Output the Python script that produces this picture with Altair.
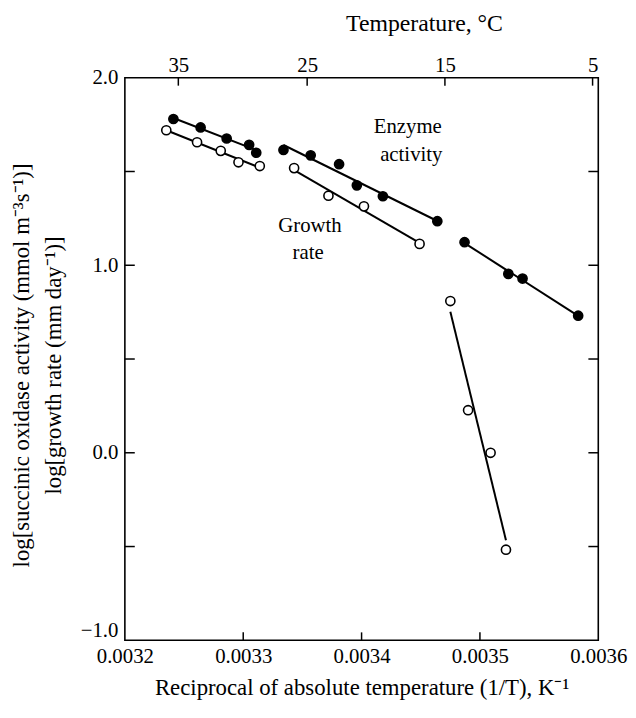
import altair as alt
import pandas as pd

# ---- data ----
enz_warm_x = [0.003241, 0.003264, 0.003286, 0.003305, 0.003311]
enz_warm_y = [1.780, 1.735, 1.676, 1.642, 1.600]
grow_warm_x = [0.003235, 0.003261, 0.003281, 0.003296, 0.003314]
grow_warm_y = [1.720, 1.656, 1.610, 1.549, 1.529]
enz_mid_x = [0.003334, 0.003357, 0.003381, 0.003396, 0.003418, 0.003464]
enz_mid_y = [1.615, 1.586, 1.539, 1.426, 1.368, 1.235]
grow_mid_x = [0.003343, 0.003372, 0.003402, 0.003449]
grow_mid_y = [1.518, 1.371, 1.314, 1.114]
enz_cold_x = [0.003487, 0.003524, 0.003536, 0.003583]
enz_cold_y = [1.123, 0.954, 0.929, 0.731]
grow_cold_x = [0.003475, 0.003490, 0.003509, 0.003522]
grow_cold_y = [0.809, 0.227, 0.000, -0.517]

x_label_ticks = [0.0032, 0.0033, 0.0034, 0.0035, 0.0036]
x_inner_ticks = [0.0033, 0.0034, 0.0035]
y_label_ticks = [-1.0, 0.0, 1.0, 2.0]
y_inner_ticks = [1.5, 1.0, 0.5, 0.0, -0.5]
top_temps_c = [35, 25, 15, 5]
top_vals = [1.0 / (t + 273.15) for t in top_temps_c]

label_text = ["Enzyme", "activity", "Growth", "rate"]
label_x = [0.003439, 0.003442, 0.0033564, 0.0033548]
label_y = [1.735, 1.585, 1.208, 1.065]

groups = [
    ("enz_warm", "Enzyme", enz_warm_x, enz_warm_y),
    ("grow_warm", "Growth", grow_warm_x, grow_warm_y),
    ("enz_mid", "Enzyme", enz_mid_x, enz_mid_y),
    ("grow_mid", "Growth", grow_mid_x, grow_mid_y),
    ("enz_cold", "Enzyme", enz_cold_x, enz_cold_y),
    ("grow_cold", "Growth", grow_cold_x, grow_cold_y),
]
rows = []
for seg, ser, xs_, ys_ in groups:
    for a, b in zip(xs_, ys_):
        rows.append({"x": a, "y": b, "seg": seg, "series": ser})
df = pd.DataFrame(rows)

FONT = "Liberation Serif"
xs = alt.Scale(domain=[0.0032, 0.0036], nice=False, zero=False)
ys = alt.Scale(domain=[-1.0, 2.0], nice=False, zero=False)

bottom_axis = alt.Axis(
    values=x_label_ticks, format=".4f", ticks=False, domain=False, grid=False,
    labelFont=FONT, labelFontSize=21, labelColor="black", labelPadding=5,
    labelFlush=False, labelOverlap=False, labelBound=False,
    title="Reciprocal of absolute temperature (1/T), K⁻¹",
    titleFont=FONT, titleFontSize=23, titleFontWeight="normal", titleColor="black",
    titlePadding=11,
)
top_axis = alt.Axis(
    orient="top", values=top_vals, labelExpr="format(1/datum.value - 273.15, '.0f')",
    ticks=False, domain=False, grid=False,
    labelFont=FONT, labelFontSize=21, labelColor="black", labelPadding=2,
    labelFlush=False, labelOverlap=False, labelBound=False,
    title="Temperature, °C", titleFont=FONT, titleFontSize=24,
    titleFontWeight="normal", titleColor="black",
    titleX=302, titleY=-48, titleAlign="center", titleBaseline="alphabetic",
)
left_axis = alt.Axis(
    values=y_label_ticks, format=".1f", ticks=False, domain=False, grid=False,
    labelFont=FONT, labelFontSize=21, labelColor="black", labelPadding=7,
    labelFlush=False, labelOverlap=False, labelBound=False,
    labelBaseline={"condition": {"test": "datum.value == -1", "value": "bottom"}, "value": "middle"},
    title=["log[succinic oxidase activity (mmol m⁻³s⁻¹)]", "log[growth rate (mm day⁻¹)]"],
    titleFont=FONT, titleFontSize=23, titleFontWeight="normal", titleColor="black",
    titleLineHeight=32, titlePadding=15, titleY=290,
)

base = alt.Chart(df)

lines = base.transform_regression(
    "x", "y", groupby=["seg"], method="linear"
).mark_line(color="black", strokeWidth=2).encode(
    x=alt.X("x:Q", scale=xs, axis=None),
    y=alt.Y("y:Q", scale=ys, axis=None),
    detail="seg:N",
)

points = base.mark_circle(stroke="black", strokeWidth=1.6, size=85, opacity=1).encode(
    x=alt.X("x:Q", scale=xs, axis=bottom_axis),
    y=alt.Y("y:Q", scale=ys, axis=left_axis),
    fill=alt.Fill("series:N", scale=alt.Scale(domain=["Enzyme", "Growth"], range=["black", "white"]), legend=None),
)

tick_style = dict(color="black", thickness=1.5, opacity=1)

ticks_bottom = alt.Chart(pd.DataFrame({"v": x_inner_ticks})).mark_tick(
    orient="vertical", size=8, yOffset=-4, **tick_style
).encode(
    x=alt.X("v:Q", scale=xs, axis=None),
    y=alt.YDatum(-1.0, type="quantitative", scale=ys, axis=None),
)
ticks_top = alt.Chart(pd.DataFrame({"v": top_vals})).mark_tick(
    orient="vertical", size=8, yOffset=4, **tick_style
).encode(
    x=alt.X("v:Q", scale=xs, axis=top_axis),
    y=alt.YDatum(2.0, type="quantitative", scale=ys, axis=None),
)
ticks_left = alt.Chart(pd.DataFrame({"v": y_inner_ticks})).mark_tick(
    orient="horizontal", size=10, xOffset=5, **tick_style
).encode(
    x=alt.XDatum(0.0032, type="quantitative", scale=xs, axis=None),
    y=alt.Y("v:Q", scale=ys, axis=None),
)
ticks_right = alt.Chart(pd.DataFrame({"v": y_inner_ticks})).mark_tick(
    orient="horizontal", size=10, xOffset=-5, **tick_style
).encode(
    x=alt.XDatum(0.0036, type="quantitative", scale=xs, axis=None),
    y=alt.Y("v:Q", scale=ys, axis=None),
)

labels = alt.Chart(pd.DataFrame({"t": label_text, "x": label_x, "y": label_y})).mark_text(
    font=FONT, fontSize=21, color="black", align="center", baseline="middle"
).encode(
    x=alt.X("x:Q", scale=xs, axis=None),
    y=alt.Y("y:Q", scale=ys, axis=None),
    text="t:N",
)

chart = alt.layer(
    lines, points, ticks_bottom, ticks_top, ticks_left, ticks_right, labels
).resolve_axis(x="independent", y="independent").properties(
    width=478, height=568,
    autosize=alt.AutoSizeParams(type="none"),
    padding={"left": 118, "top": 67, "right": 30, "bottom": 70},
    background="white",
).configure_view(stroke="black", strokeWidth=1.6)

chart.save("out.html", embed_options={"renderer": "svg", "actions": False})
